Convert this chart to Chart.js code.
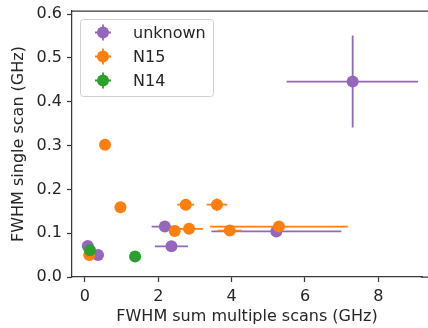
<!DOCTYPE html>
<html>
<head>
<meta charset="utf-8">
<script src="https://cdn.jsdelivr.net/npm/chart.js@4"></script>
<style>
  html, body { margin: 0; padding: 0; background: #fff; overflow: hidden; }
  canvas { display: block; }
</style>
</head>
<body>
<canvas id="fwhm" width="428" height="328"></canvas>
<script>
// series names and colours (matplotlib tab10)
const seriesNames = ['unknown', 'N15', 'N14'];
const seriesColors = ['#9467bd', '#ff7f0e', '#2ca02c'];

// unknown
const unknownX = [7.30, 2.18, 2.36, 0.08, 0.36, 5.22];
const unknownY = [0.446, 0.115, 0.070, 0.071, 0.050, 0.104];
const unknownXErr = [1.80, 0.36, 0.45, 0.02, 0.02, 1.77];
const unknownYErr = [0.105, 0.004, 0.004, 0.004, 0.004, 0.003];

// N15
const n15X = [0.55, 0.97, 0.12, 2.45, 2.75, 2.84, 3.60, 3.95, 5.29];
const n15Y = [0.302, 0.159, 0.050, 0.105, 0.165, 0.110, 0.165, 0.106, 0.115];
const n15XErr = [0.03, 0.04, 0.02, 0.10, 0.23, 0.38, 0.28, 0.33, 1.88];
const n15YErr = [0.004, 0.004, 0.003, 0.004, 0.008, 0.005, 0.014, 0.004, 0.013];

// N14
const n14X = [0.14, 1.37];
const n14Y = [0.061, 0.047];
const n14XErr = [0.02, 0.02];
const n14YErr = [0.003, 0.003];

const xTicks = [0, 2, 4, 6, 8];
const yTicks = [0.0, 0.1, 0.2, 0.3, 0.4, 0.5, 0.6];

const FONT = 'DejaVu Sans';
const TEXT = '#262626';
const AXIS = '#3a3a3a';

function points(xs, ys) {
  return xs.map((x, i) => ({ x: x, y: ys[i] }));
}

function makeSet(i, xs, ys, xe, ye) {
  return {
    label: seriesNames[i],
    data: points(xs, ys),
    xErr: xe,
    yErr: ye,
    backgroundColor: seriesColors[i],
    borderColor: seriesColors[i],
    pointRadius: 6,
    pointHoverRadius: 6,
    pointBorderWidth: 0,
    clip: false,
    order: 2 - i,
  };
}

// error bars, drawn just before each dataset so later series sit on top
const errorBars = {
  id: 'errorBars',
  beforeDatasetDraw(chart, args) {
    const ds = chart.data.datasets[args.index];
    const xs = chart.scales.x;
    const ys = chart.scales.y;
    const ctx = chart.ctx;
    ctx.save();
    ctx.strokeStyle = ds.borderColor;
    ctx.lineWidth = 1.8;
    ds.data.forEach((p, i) => {
      const px = xs.getPixelForValue(p.x);
      const py = ys.getPixelForValue(p.y);
      ctx.beginPath();
      ctx.moveTo(xs.getPixelForValue(p.x - ds.xErr[i]), py);
      ctx.lineTo(xs.getPixelForValue(p.x + ds.xErr[i]), py);
      ctx.moveTo(px, ys.getPixelForValue(p.y - ds.yErr[i]));
      ctx.lineTo(px, ys.getPixelForValue(p.y + ds.yErr[i]));
      ctx.stroke();
    });
    ctx.beginPath();
    ctx.restore();
  },
};

// top spine, bottom spine running off the right edge, and the legend box
const frameAndLegend = {
  id: 'frameAndLegend',
  afterDraw(chart) {
    const ctx = chart.ctx;
    const a = chart.chartArea;
    ctx.save();
    // the plot runs off the right edge of the picture: no right spine there
    ctx.beginPath();
    ctx.fillStyle = '#fff';
    ctx.fillRect(a.right - 4, a.top + 1, chart.width - a.right + 4, a.bottom - a.top - 2);

    ctx.strokeStyle = AXIS;
    ctx.lineWidth = 1.25;
    ctx.beginPath();
    ctx.moveTo(a.left, a.top);
    ctx.lineTo(chart.width, a.top);
    ctx.moveTo(a.right - 1, a.bottom);
    ctx.lineTo(chart.width, a.bottom);
    ctx.stroke();

    const bx = 80.5, by = 19.5, bw = 133, bh = 77;
    ctx.beginPath();
    ctx.roundRect(bx, by, bw, bh, 3);
    ctx.fillStyle = 'rgba(255,255,255,0.8)';
    ctx.fill();
    ctx.strokeStyle = '#d0d0d0';
    ctx.lineWidth = 1;
    ctx.stroke();

    ctx.font = '16px "' + FONT + '"';
    ctx.textBaseline = 'middle';
    ctx.textAlign = 'left';
    chart.data.datasets.forEach((ds, i) => {
      const cy = 32.5 + i * 24;
      const cx = 103;
      ctx.strokeStyle = ds.borderColor;
      ctx.lineWidth = 1.8;
      ctx.beginPath();
      ctx.moveTo(cx - 8, cy);
      ctx.lineTo(cx + 8, cy);
      ctx.moveTo(cx, cy - 8);
      ctx.lineTo(cx, cy + 8);
      ctx.stroke();
      ctx.fillStyle = ds.backgroundColor;
      ctx.beginPath();
      ctx.arc(cx, cy, 6, 0, Math.PI * 2);
      ctx.fill();
      ctx.fillStyle = TEXT;
      ctx.fillText(ds.label, 133, cy + 1);
    });
    ctx.restore();
  },
};

const ctx = document.getElementById('fwhm').getContext('2d');
new Chart(ctx, {
  type: 'scatter',
  data: {
    datasets: [
      makeSet(0, unknownX, unknownY, unknownXErr, unknownYErr),
      makeSet(1, n15X, n15Y, n15XErr, n15YErr),
      makeSet(2, n14X, n14Y, n14XErr, n14YErr),
    ],
  },
  options: {
    responsive: false,
    animation: false,
    layout: { padding: { top: 11, right: 0, bottom: 0, left: 0 } },
    plugins: {
      legend: { display: false },
      tooltip: { enabled: false },
    },
    scales: {
      x: {
        type: 'linear',
        min: -0.35,
        max: 9.19,
        afterBuildTicks(scale) {
          scale.ticks = xTicks.map((v) => ({ value: v }));
        },
        afterFit(scale) {
          scale.height = 51;
          scale.paddingLeft = 0;
          scale.paddingRight = 0;
        },
        ticks: {
          color: TEXT,
          font: { family: FONT, size: 16 },
          padding: 5,
          maxRotation: 0,
        },
        grid: { drawOnChartArea: false, tickLength: 5, tickColor: AXIS, tickWidth: 1.25 },
        border: { color: AXIS, width: 1.25 },
        title: {
          display: true,
          text: 'FWHM sum multiple scans (GHz)',
          color: TEXT,
          font: { family: FONT, size: 16 },
          padding: { top: 0, bottom: 2 },
        },
      },
      y: {
        type: 'linear',
        min: 0,
        max: 0.607,
        afterBuildTicks(scale) {
          scale.ticks = yTicks.map((v) => ({ value: v }));
        },
        afterFit(scale) {
          scale.width = 72;
          scale.paddingTop = 0;
          scale.paddingBottom = 0;
        },
        ticks: {
          color: TEXT,
          font: { family: FONT, size: 16 },
          padding: 5,
          callback: (v) => v.toFixed(1),
        },
        grid: { drawOnChartArea: false, tickLength: 5, tickColor: AXIS, tickWidth: 1.25 },
        border: { color: AXIS, width: 1.25 },
        title: {
          display: true,
          text: 'FWHM single scan (GHz)',
          color: TEXT,
          font: { family: FONT, size: 16 },
          padding: { top: 9, bottom: 0 },
        },
      },
    },
  },
  plugins: [errorBars, frameAndLegend],
});
</script>
</body>
</html>
